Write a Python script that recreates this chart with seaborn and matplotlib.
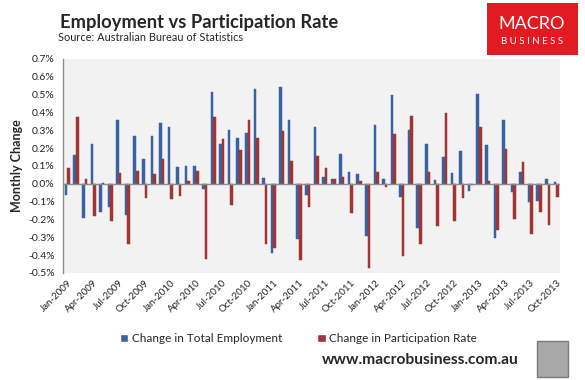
import pandas as pd
import matplotlib
matplotlib.use("Agg")
import matplotlib.pyplot as plt
from matplotlib.patches import Patch, Rectangle
import seaborn as sns

# monthly change, %, Jan-2009 .. Oct-2013
months = pd.date_range("2009-01-01", periods=58, freq="MS").strftime("%b-%Y").tolist()

employment = [-0.066, 0.163, -0.195, 0.225, -0.16, -0.128, 0.36, -0.173, 0.265, 0.139, 0.265, 0.338, 0.316, 0.096, 0.10,
              0.10, -0.028, 0.516, 0.22, 0.302, 0.259, 0.287, 0.53, 0.032, -0.387, 0.541, 0.355, -0.31, -0.066, 0.316,
              0.04, 0.026, 0.169, 0.068, 0.056, -0.291, 0.327, 0.026, 0.50, -0.077, 0.304, -0.25, 0.22, 0.02,
              0.15, 0.06, 0.184, -0.041, 0.505, 0.218, -0.302, 0.355, -0.049, 0.068, -0.105, -0.096, 0.026, 0.011]

participation = [0.09, 0.372, 0.026, -0.18, 0.005, -0.207, 0.062, -0.336, 0.07, -0.083, 0.054, 0.139, -0.088, -0.068, 0.015,
                 0.073, -0.42, 0.372, 0.252, -0.122, 0.19, 0.355, 0.259, -0.336, -0.362, 0.293, 0.13, -0.426, -0.128, 0.158,
                 0.09, 0.026, 0.038, -0.167, 0.015, -0.471, 0.068, -0.021, 0.28, -0.404, 0.377, -0.338, 0.068, -0.24,
                 0.394, -0.207, -0.079, -0.01, 0.32, 0.017, -0.257, 0.197, -0.20, 0.124, -0.28, -0.156, -0.229, -0.077]

series_names = ["Change in Total Employment", "Change in Participation Rate"]
yticks = [0.7, 0.6, 0.5, 0.4, 0.3, 0.2, 0.1, 0.0, -0.1, -0.2, -0.3, -0.4, -0.5]

blue = "#3A62A0"
red = "#A13434"

df = pd.DataFrame({
    "Month": months * 2,
    "Change": employment + participation,
    "Series": [series_names[0]] * len(months) + [series_names[1]] * len(months),
})

sns.set_style("white")
plt.rcParams["font.family"] = ["Lato", "DejaVu Sans"]

fig = plt.figure(figsize=(5.85, 3.8), dpi=100)
ax = fig.add_axes([0.108, 0.282, 0.850, 0.563])
ax.set_facecolor("#F2F2F2")

sns.barplot(data=df, x="Month", y="Change", hue="Series", palette=[blue, red],
            width=0.6, ax=ax, legend=False, saturation=1)
# thin edge in the fill colour so the narrow bars render evenly
for bar in ax.patches:
    bar.set_edgecolor(bar.get_facecolor())
    bar.set_linewidth(0.35)

ax.set_ylim(-0.5, 0.7)
ax.set_xlim(-0.5, len(months) - 0.5)
ax.set_yticks(yticks)
ax.set_yticklabels([f"{v:.1f}%" for v in yticks], fontsize=7.5, color="#222222")
ax.set_xticks(range(0, len(months), 3))
ax.set_xticklabels(months[::3], rotation=45, ha="right", rotation_mode="anchor",
                   fontsize=7, color="#222222")
ax.tick_params(axis="x", length=0, pad=4)
ax.tick_params(axis="y", length=0, pad=6)
ax.axhline(0, color="#8C8C8C", lw=1, zorder=3)
for s in ["top", "right", "bottom"]:
    ax.spines[s].set_visible(False)
ax.spines["left"].set_color("#8C8C8C")
ax.spines["left"].set_linewidth(1)
ax.set_xlabel("")
ax.set_ylabel("Monthly Change", fontsize=9, fontweight="bold", labelpad=4)

fig.text(0.102, 0.927, "Employment vs Participation Rate", fontsize=13.2, fontweight="bold")
fig.text(0.099, 0.893, "Source: Australian Bureau of Statistics", fontsize=7.9)

# logo
fig.patches.append(Rectangle((487 / 585, 1 - 55 / 380), 91 / 585, 52 / 380,
                             transform=fig.transFigure, facecolor="#E21A22", edgecolor="none"))
fig.text(532 / 585, 1 - 24 / 380, "MACRO", color="white", fontsize=13, ha="center", va="center")
fig.text(532 / 585, 1 - 41 / 380, "B U S I N E S S", color="white", fontsize=7, ha="center", va="center")

handles = [Patch(facecolor=blue), Patch(facecolor=red)]
fig.legend(handles, series_names, loc="center", bbox_to_anchor=(0.51, 0.108), ncol=2,
           frameon=False, fontsize=8.5, handlelength=0.7, handleheight=0.7,
           handletextpad=0.3, columnspacing=3.0)

fig.text(0.718, 0.052, "www.macrobusiness.com.au", fontsize=11.2, fontweight="bold",
         ha="center", va="center")
fig.patches.append(Rectangle((537 / 585, 1 - 377 / 380), 31 / 585, 36 / 380,
                             transform=fig.transFigure, facecolor="#A8A8A8", edgecolor="#7A7A7A"))

fig.savefig("out.png", dpi=100)
